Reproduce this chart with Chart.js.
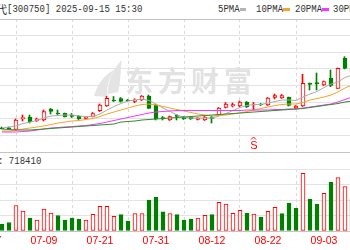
<!DOCTYPE html>
<html>
<head>
<meta charset="utf-8">
<script src="https://cdn.jsdelivr.net/npm/chart.js@4.4.1/dist/chart.umd.min.js"></script>
<style>
  html, body { margin: 0; padding: 0; background: #fff; }
  #wrap { position: relative; width: 350px; height: 250px; overflow: hidden; background: #fff; }
  .txt { position: absolute; font: 11px "Liberation Mono", monospace; color: #333; white-space: nowrap;
         line-height: 11px; transform: scaleX(0.82); transform-origin: 0 0; }
  .cjk { position: absolute; font: 11px "Noto Sans CJK SC", sans-serif; color: #333; white-space: nowrap; line-height: 11px; }
  .mk { position: absolute; top: 8px; height: 3px; }
  canvas { position: absolute; left: -42px; }
</style>
</head>
<body>
<div id="wrap">
  <div class="cjk" style="left:-37px;top:4px">宁德时代</div>
  <div class="txt" style="left:7px;top:4px">[300750] 2025-09-15 15:30</div>

  <div class="txt" style="left:218px;top:4px">5PMA</div>
  <div class="mk" style="left:240px;width:6px;background:#b4b4b4"></div>
  <div class="txt" style="left:256px;top:4px">10PMA</div>
  <div class="mk" style="left:283px;width:7px;background:#f5a623"></div>
  <div class="txt" style="left:295px;top:4px">20PMA</div>
  <div class="mk" style="left:322px;width:7px;background:#ff33ff"></div>
  <div class="txt" style="left:333px;top:4px">30PMA</div>
  <div class="mk" style="left:361px;width:7px;background:#2f8f2f"></div>

  <canvas id="price" width="441" height="135" style="top:18px"></canvas>

  <div class="cjk" style="left:-35px;top:156px">成交量</div>
  <div class="txt" style="left:-2px;top:156px">: 718410</div>

  <canvas id="vol" width="441" height="98" style="top:152px"></canvas>
</div>

<script>
// trading days shown (07-01 .. 09-09)
const dates = ['07-01','07-02','07-03','07-04','07-07','07-08','07-09','07-10','07-11','07-14','07-15','07-16',
  '07-17','07-18','07-21','07-22','07-23','07-24','07-25','07-28','07-29','07-30','07-31',
  '08-01','08-04','08-05','08-06','08-07','08-08','08-11','08-12','08-13','08-14','08-15','08-18','08-19',
  '08-20','08-21','08-22','08-25','08-26','08-27','08-28','08-29',
  '09-01','09-02','09-03','09-04','09-05','09-08','09-09'];

const opens  = [291,291.2,289.7,300.2,302,298.5,299,310,306,305.7,304,303,300.5,302.5,308.3,313,319,320.5,319,317.7,319,323,314,
  301.5,299,304,301.5,302,299.5,299,302,304,311.7,313,313,317,314,315,314,321.5,321,321.7,311,313,
  336,336.5,334,340.7,330.7,360.7,351];
const closes = [290.3,290.4,299,301.5,297.3,300,307.3,307.5,305,302.3,302.7,300,302,305.5,314,320.7,318,317.5,318.2,319,323,310.7,300,
  300.2,302.3,302.7,300.3,300,301,302,300.5,311,315,314.5,317,312,315,314,321,323.5,323.5,313.5,313,335.7,
  334.5,335,337.3,333.5,350.7,350.7,347];
const highs  = [292,292,300,304,304,301,309,310.5,309,306,305.5,303.5,302.5,306.5,315,322.5,322.5,321.5,319.5,320.3,323.5,324,314.5,
  302.5,303,304.5,302.5,302.5,301.5,302.5,302.5,311.5,316.5,316,318,317.5,316.5,315.5,321.5,325,324.5,322,313.5,344.7,
  336,346,338,349,351,362.3,352];
const lows   = [290,290,289,298,296,297.5,298,305,304.5,302,301.5,299.5,300,302,307.5,312.5,317.5,317,318,316.3,318.5,310.5,299,
  299,298.5,299,299.5,299.5,299,298.5,296,303.5,311,312,312,311.5,309,313.5,313.5,320,320.5,313,310.5,312.5,
  329,329,333.5,332.3,330.5,350,346];

const ma5  = [291,292,293,295.5,297,298.5,301,303,303.5,304,304,303,302.5,302.5,305,309,312.5,315.5,318,319,320,318.5,315,
  311,307.5,304,301.5,301,301,301,301,303,305.5,308.5,311.5,313.5,314.5,314.5,316,317.5,319,319,318.5,322,
  325,327.5,331.5,335,337,341.5,344];
const ma10 = [288,288,289,290,291,292,293,294.5,296,297,298,298.5,299.5,300.5,302.5,305,307,309,311,313,314.5,315,314,
  312.5,311,309.5,308,306.5,305,304,303,303.5,304,305,306,307.5,309,310.5,312,313.5,314.5,315,315,316.5,
  319,320.5,322,324,327,331,334];
const ma20 = [287,287,287,287.5,288,289,290,291,291.5,292,292.5,293,293.5,294.5,295.5,297,298.5,300,301.5,303,304.5,306,307,
  307.5,308,308.5,308.5,308.5,308.5,308.5,308.5,308.5,308.5,308.5,308.5,309,309,309,309,309.5,309.5,310,310,311,
  312,313,314,315,317,319.5,322];
const ma30 = [290,289.5,289,289,289,289.5,290,290.5,291,291.5,292,292.5,293,293.5,294,294.5,295,297,297.5,298,299,299.5,300,
  300.5,301,301.5,302,302.5,303,303.5,304,304.5,305,305.5,306,306.5,307,307.5,308,308.5,309,309.5,310,310.5,
  311.5,312.5,313.5,314.5,315.5,317,318];

const volumes = [108000,137000,411000,323000,210000,177000,355000,290000,250000,177000,210000,194000,177000,269000,398000,398000,237000,263000,161000,279000,279000,500000,544000,
  311000,279000,263000,177000,194000,210000,253000,263000,463000,435000,285000,334000,290000,274000,226000,318000,382000,279000,452000,366000,931000,
  516000,435000,608000,785000,860000,715000,532000];
// 1 = red (up) volume bar, 0 = green
const volUp = [0,0,1,1,0,1,1,1,0,0,0,0,1,1,1,1,1,0,0,1,1,0,0,
  0,1,0,0,0,1,1,0,1,1,1,1,0,1,0,1,1,0,0,0,1,
  0,0,1,0,1,1,0];

// x axis labels (index relative to 07-01)
const tickIdx    = [-2, 6, 14, 22, 30, 38, 46, 54];
const tickLabels = ['06-27','07-09','07-21','07-31','08-12','08-22','09-03','09-15'];

const sellIdx = 36; // 'S' signal on 08-20

const RED = '#ff0000', GREEN = '#008000';
const STEP = 7;                       // px per trading day
const xMin = -44 / STEP, xMax = xMin + 441 / STEP;

function xAxis(showLabels) {
  return {
    type: 'linear', min: xMin, max: xMax, offset: false,
    afterBuildTicks: s => { s.ticks = tickIdx.map(v => ({ value: v })); },
    grid: { color: '#d9d9d9', drawTicks: false, borderDash: [3, 3] },
    border: { display: false, dash: [3, 3] },
    ticks: {
      display: showLabels, autoSkip: false, maxRotation: 0, padding: 4, color: RED,
      font: { family: 'Liberation Sans', size: 10.5 },
      callback: v => tickLabels[tickIdx.indexOf(v)]
    },
    afterFit: s => { if (showLabels) s.height = 19; }
  };
}

const isUp = i => closes[i] >= opens[i];

const watermark = {
  id: 'watermark',
  beforeDatasetsDraw(chart) {
    const ctx = chart.ctx;
    ctx.save();
    // logo (screen x 93-120, y 60-97 -> canvas +42 / -18)
    ctx.fillStyle = '#e4e4e4';
    ctx.beginPath();
    ctx.moveTo(150, 76);
    ctx.bezierCurveTo(150, 60, 156, 50, 164, 42);
    ctx.bezierCurveTo(162, 54, 163, 64, 160, 74);
    ctx.closePath();
    ctx.fill();
    ctx.beginPath();
    ctx.moveTo(136, 78);
    ctx.bezierCurveTo(140, 64, 148, 56, 156, 52);
    ctx.bezierCurveTo(150, 62, 148, 70, 150, 79);
    ctx.closePath();
    ctx.fill();
    // text
    ctx.fillStyle = '#e2e2e2';
    ctx.font = 'bold 28px "Noto Sans CJK SC"';
    ctx.textBaseline = 'alphabetic';
    const name = '东方财富';
    for (let k = 0; k < name.length; k++) ctx.fillText(name[k], 167 + k * 33, 74);
    ctx.restore();
  }
};

const sellMark = {
  id: 'sellMark',
  afterDatasetsDraw(chart) {
    const ctx = chart.ctx;
    const x = chart.scales.x.getPixelForValue(sellIdx) - 0.5;
    const b = chart.chartArea.bottom;
    ctx.save();
    ctx.strokeStyle = RED; ctx.fillStyle = RED; ctx.lineWidth = 1;
    ctx.beginPath();
    ctx.moveTo(x - 2.5, b - 12.5); ctx.lineTo(x, b - 15); ctx.lineTo(x + 2.5, b - 12.5);
    ctx.stroke();
    ctx.font = '11px "Liberation Sans"';
    ctx.textAlign = 'center'; ctx.textBaseline = 'alphabetic';
    ctx.fillText('S', x + 0.5, b - 3);
    ctx.restore();
  }
};

const lineSet = (arr, c) => ({
  type: 'line', data: arr.map((v, i) => ({ x: i, y: v })), borderColor: c,
  borderWidth: 1, pointRadius: 0, tension: 0, order: 1
});

new Chart(document.getElementById('price'), {
  type: 'bar',
  data: {
    datasets: [
      lineSet(ma30, '#2f8f2f'),
      lineSet(ma20, '#ff33ff'),
      lineSet(ma10, '#f5a623'),
      lineSet(ma5, '#aaaaaa'),
      {
        // high-low wick, on a half-pixel shifted copy of the x axis so it lands on one column
        xAxisID: 'xw',
        data: dates.map((d, i) => ({ x: i, y: [lows[i], highs[i]] })),
        backgroundColor: c => isUp(c.dataIndex) ? RED : GREEN,
        borderWidth: 0, barThickness: 1, grouped: false, order: 4
      },
      {
        data: dates.map((d, i) => ({ x: i, y: [opens[i], closes[i]] })),
        backgroundColor: c => isUp(c.dataIndex) ? '#ffffff' : GREEN,
        borderColor: c => isUp(c.dataIndex) ? RED : GREEN,
        borderWidth: 1, borderSkipped: false, barThickness: 4, grouped: false, order: 3
      }
    ]
  },
  options: {
    responsive: false, animation: false, devicePixelRatio: 1,
    layout: { padding: { top: 1, bottom: 1, left: 0, right: 0 } },
    plugins: { legend: { display: false }, tooltip: { enabled: false } },
    scales: {
      x: xAxis(false),
      xw: { type: 'linear', display: false, offset: false, min: xMin + 0.5 / STEP, max: xMax + 0.5 / STEP },
      y: {
        min: 267, max: 400,
        afterBuildTicks: s => { s.ticks = [0,1,2,3,4,5,6,7,8].map(k => ({ value: 267 + k * 16.625 })); },
        ticks: { display: false },
        grid: { drawTicks: false, color: c => (c.index === 0 || c.index === 8) ? '#c4c4c4' : '#e3e3e3' },
        border: { display: false }
      }
    }
  },
  plugins: [watermark, sellMark]
});

new Chart(document.getElementById('vol'), {
  type: 'bar',
  data: {
    datasets: [{
      data: dates.map((d, i) => ({ x: i, y: volumes[i] })),
      backgroundColor: c => volUp[c.dataIndex] ? '#ffffff' : GREEN,
      borderColor: c => volUp[c.dataIndex] ? RED : GREEN,
      borderWidth: 1, borderSkipped: false, barThickness: 4, grouped: false
    }]
  },
  options: {
    responsive: false, animation: false, devicePixelRatio: 1,
    layout: { padding: { top: 17, bottom: 0, left: 0, right: 0 } },
    plugins: { legend: { display: false }, tooltip: { enabled: false } },
    scales: {
      x: xAxis(true),
      y: {
        min: 0, max: 1000000,
        ticks: { display: false, stepSize: 250000 },
        grid: { drawTicks: false, color: c => c.index === 0 ? '#c4c4c4' : '#e3e3e3' },
        border: { display: false }
      }
    }
  }
});
</script>
</body>
</html>
